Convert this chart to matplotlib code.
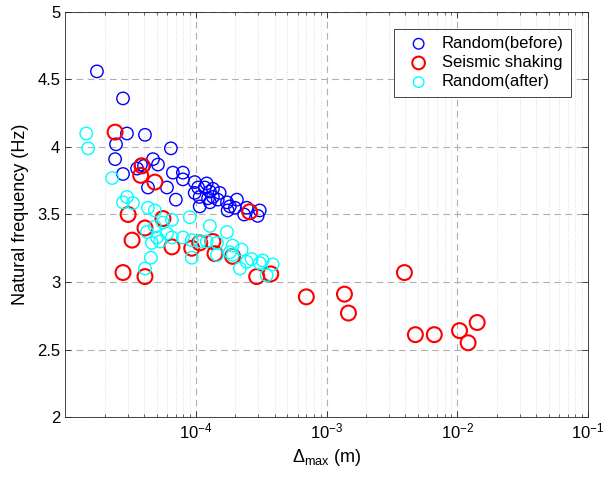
import matplotlib
matplotlib.use("Agg")
import matplotlib.pyplot as plt
import matplotlib.ticker as ticker

plt.rcParams['font.family'] = ['Liberation Sans', 'DejaVu Sans']
plt.rcParams['mathtext.default'] = 'regular'

# ===== DATA =====
# Random(before)
before_x = [1.75e-5, 2.77e-5, 2.97e-5, 4.08e-5, 2.45e-5, 6.44e-5, 2.41e-5, 4.70e-5,
            5.13e-5, 4.01e-5, 3.55e-5, 3.80e-5, 2.77e-5, 6.67e-5, 7.96e-5, 7.96e-5,
            4.30e-5, 6.01e-5, 7.03e-5, 9.8e-5, 1.04e-4, 1.17e-4, 1.28e-4, 1.35e-4,
            9.8e-5, 1.07e-4, 1.24e-4, 1.35e-4, 1.47e-4, 1.28e-4, 1.07e-4, 1.73e-4,
            2.06e-4, 1.82e-4, 1.99e-4, 1.75e-4, 2.45e-4, 2.34e-4, 3.08e-4, 2.97e-4,
            1.21e-4, 1.52e-4]
before_y = [4.56, 4.36, 4.10, 4.09, 4.02, 3.99, 3.91, 3.91,
            3.87, 3.86, 3.84, 3.87, 3.80, 3.81, 3.81, 3.76,
            3.70, 3.70, 3.61, 3.74, 3.70, 3.70, 3.67, 3.69,
            3.66, 3.63, 3.62, 3.63, 3.61, 3.59, 3.56, 3.59,
            3.61, 3.56, 3.55, 3.53, 3.55, 3.50, 3.53, 3.49,
            3.73, 3.66]

# Seismic shaking
shake_x = [2.41e-5, 3.87e-5, 3.78e-5, 4.86e-5, 3.03e-5, 4.08e-5, 3.25e-5, 2.77e-5,
           4.08e-5, 5.6e-5, 6.56e-5, 9.3e-5, 1.07e-4, 1.35e-4, 1.40e-4, 1.91e-4,
           2.92e-4, 3.74e-4, 7.0e-4, 1.37e-3, 1.47e-3, 3.94e-3, 4.78e-3, 6.67e-3,
           1.04e-2, 1.21e-2, 1.42e-2, 2.58e-4]
shake_y = [4.11, 3.86, 3.79, 3.74, 3.50, 3.40, 3.31, 3.07,
           3.04, 3.47, 3.26, 3.25, 3.29, 3.30, 3.21, 3.19,
           3.04, 3.06, 2.89, 2.91, 2.77, 3.07, 2.61, 2.61,
           2.64, 2.55, 2.70, 3.52]

# Random(after)
after_x = [1.45e-5, 1.50e-5, 2.29e-5, 2.97e-5, 2.77e-5, 3.30e-5, 4.30e-5, 4.86e-5,
           6.56e-5, 8.99e-5, 4.23e-5, 4.86e-5, 5.60e-5, 6.01e-5, 4.61e-5, 5.31e-5,
           6.56e-5, 7.96e-5, 9.31e-5, 4.53e-5, 4.08e-5, 9.31e-5, 1.28e-4, 1.73e-4,
           1.07e-4, 1.21e-4, 1.45e-4, 1.91e-4, 2.24e-4, 2.67e-4, 2.17e-4, 3.24e-4,
           3.87e-4, 3.48e-4, 3.08e-4, 1.45e-4, 1.82e-4, 1.91e-4, 2.45e-4, 5.04e-5]
after_y = [4.10, 3.99, 3.77, 3.63, 3.59, 3.585, 3.55, 3.53,
           3.46, 3.48, 3.37, 3.41, 3.44, 3.36, 3.29, 3.30,
           3.33, 3.33, 3.31, 3.18, 3.10, 3.18, 3.415, 3.37,
           3.30, 3.30, 3.29, 3.27, 3.24, 3.17, 3.10, 3.16,
           3.13, 3.05, 3.14, 3.20, 3.22, 3.20, 3.15, 3.33]

x_ticks = [1e-4, 1e-3, 1e-2, 1e-1]
y_ticks = [2, 2.5, 3, 3.5, 4, 4.5, 5]

fig = plt.figure(figsize=(6.09, 4.79), dpi=100)
ax = fig.add_axes([0.107, 0.1294, 0.8585, 0.8456])

ax.scatter(before_x, before_y, s=80, facecolors='none', edgecolors='#0000ff',
           linewidths=1.0, label='Random(before)', zorder=3)
ax.scatter(shake_x, shake_y, s=115, facecolors='none', edgecolors='#ff0000',
           linewidths=1.5, label='Seismic shaking', zorder=3)
ax.scatter(after_x, after_y, s=80, facecolors='none', edgecolors='#00ffff',
           linewidths=1.0, label='Random(after)', zorder=3)

ax.set_xscale('log')
ax.set_xlim(1e-5, 1e-1)
ax.set_ylim(2, 5)
ax.set_xticks(x_ticks)
ax.set_yticks(y_ticks)
ax.set_yticklabels(['2', '2.5', '3', '3.5', '4', '4.5', '5'])
ax.xaxis.set_minor_locator(ticker.LogLocator(base=10, subs=range(2, 10), numticks=20))
ax.xaxis.set_minor_formatter(ticker.NullFormatter())

ax.grid(True, which='major', linestyle=(0, (6, 4)), color='#b0b0b0', linewidth=0.8)
ax.grid(True, which='minor', axis='x', linestyle=':', color='#d8d8d8', linewidth=0.6)
ax.set_axisbelow(True)

ax.tick_params(which='both', direction='in', top=True, right=True,
               colors='#262626', labelcolor='black', labelsize=12)
ax.tick_params(which='major', length=4, width=0.6)
ax.tick_params(which='minor', length=2.5, width=0.5)
for sp in ax.spines.values():
    sp.set_color('#262626')
    sp.set_linewidth(0.6)

ax.set_xlabel(r'$\Delta_{max}$ (m)', fontsize=13, labelpad=4)
ax.set_ylabel('Natural frequency (Hz)', fontsize=13, labelpad=6)

leg = ax.legend(loc='upper right', fontsize=12, frameon=True, fancybox=False,
                framealpha=1, edgecolor='#262626', borderaxespad=1.0,
                handletextpad=0.4, borderpad=0.45, labelspacing=0.25,
                markerscale=0.85)
leg.get_frame().set_linewidth(0.6)

fig.savefig('out.png', dpi=100)
